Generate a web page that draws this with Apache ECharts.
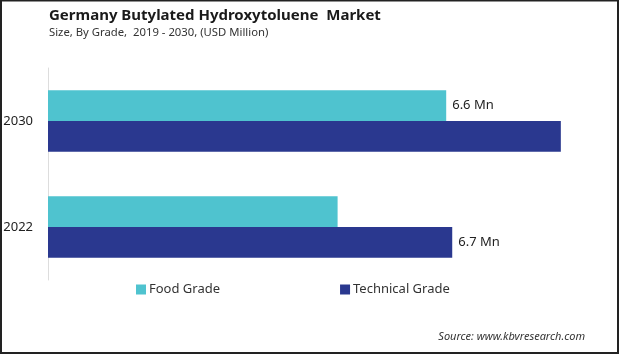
<!DOCTYPE html>
<html>
<head>
<meta charset="utf-8">
<script src="https://cdn.jsdelivr.net/npm/echarts@6/dist/echarts.min.js"></script>
<style>
  html, body { margin: 0; padding: 0; background: #fff; }
  #chart { width: 619px; height: 354px; }
</style>
</head>
<body>
<div id="chart"></div>
<script>
// data
const years = ['2022', '2030']
const foodGrade = [4.8, 6.6]
const technicalGrade = [6.7, 8.5]
// only these two bars carry a value label
const foodLabelled = ['2030']
const technicalLabelled = ['2022']

const font = '"Noto Sans", Roboto, sans-serif'

function labelFor(shown) {
  return {
    show: true,
    position: 'right',
    distance: 6,
    fontFamily: font,
    fontSize: 13,
    color: '#222',
    formatter: p => shown.includes(p.name) ? p.value.toFixed(1) + ' Mn' : ''
  }
}

const chart = echarts.init(document.getElementById('chart'))
chart.setOption({
  animation: false,
  title: {
    text: 'Germany Butylated Hydroxytoluene  Market',
    subtext: 'Size, By Grade,  2019 - 2030, (USD Million)',
    left: 44,
    top: 3,
    itemGap: 4,
    textStyle: { fontFamily: font, fontSize: 15, fontWeight: 'bold', color: '#1a1a1a' },
    subtextStyle: { fontFamily: font, fontSize: 11.3, color: '#333' }
  },
  legend: {
    bottom: 53,
    left: 131,
    itemGap: 120,
    itemWidth: 10,
    itemHeight: 10,
    icon: 'rect',
    textStyle: { fontFamily: font, fontSize: 13, color: '#333', padding: [0, 0, 0, -2] },
    data: ['Food Grade', 'Technical Grade']
  },
  grid: { left: 48, top: 68, width: 543, height: 212 },
  xAxis: {
    type: 'value',
    min: 0,
    max: 9,
    show: false
  },
  yAxis: {
    type: 'category',
    data: years,
    axisLine: { show: true, lineStyle: { color: '#ddd', width: 1 } },
    axisTick: { show: false },
    axisLabel: { fontFamily: font, fontSize: 13, color: '#222', margin: 15 }
  },
  series: [
    {
      name: 'Food Grade',
      type: 'bar',
      data: foodGrade,
      barGap: '0%',
      barCategoryGap: '42%',
      itemStyle: { color: '#4fc3cf' },
      label: labelFor(foodLabelled)
    },
    {
      name: 'Technical Grade',
      type: 'bar',
      data: technicalGrade,
      itemStyle: { color: '#2a388f' },
      label: labelFor(technicalLabelled)
    }
  ],
  graphic: [
    {
      type: 'text',
      right: 34,
      bottom: 12,
      style: {
        text: 'Source: www.kbvresearch.com',
        font: 'italic 11px ' + font,
        fill: '#333'
      }
    },
    {
      type: 'rect',
      shape: { x: 1, y: 0.5, width: 617, height: 352.5 },
      style: { fill: 'none', stroke: '#222', lineWidth: 2 },
      silent: true
    }
  ]
})
</script>
</body>
</html>
